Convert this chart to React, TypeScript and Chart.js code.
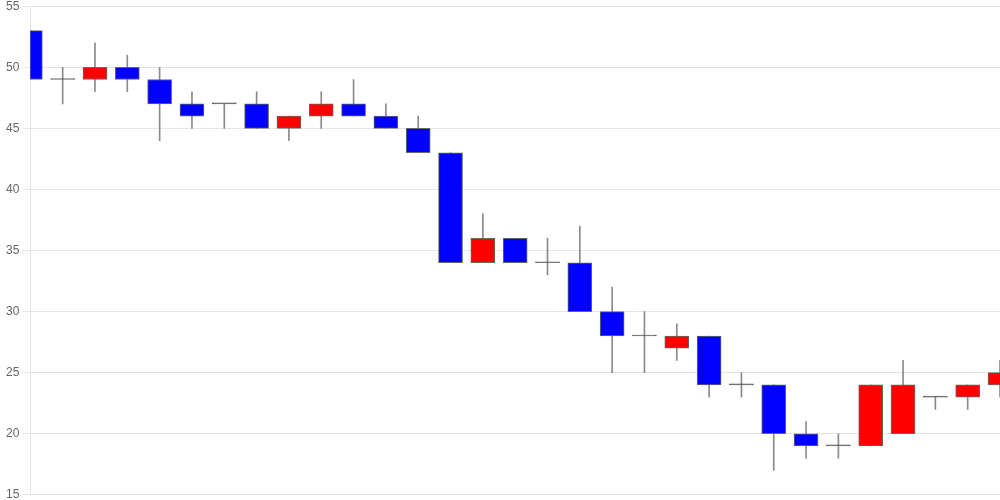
import React, { useEffect, useRef } from "react";
import { Chart, registerables } from "chart.js";

Chart.register(...registerables);

const labels = [
  "1", "2", "3", "4", "5", "6", "7", "8", "9", "10",
  "11", "12", "13", "14", "15", "16", "17", "18", "19", "20",
  "21", "22", "23", "24", "25", "26", "27", "28", "29", "30", "31",
];
const openValues = [53, 49, 49, 50, 49, 47, 47, 47, 45, 46, 47, 46, 45, 43, 34, 36, 34, 34, 30, 28, 27, 28, 24, 24, 20, 19, 19, 20, 23, 23, 24];
const highValues = [53, 50, 52, 51, 50, 48, 47, 48, 46, 48, 49, 47, 46, 43, 38, 36, 36, 37, 32, 30, 29, 28, 25, 24, 21, 20, 24, 26, 23, 24, 26];
const lowValues = [49, 47, 48, 48, 44, 45, 45, 45, 44, 45, 46, 45, 43, 34, 34, 34, 33, 30, 25, 25, 26, 23, 23, 17, 18, 18, 19, 20, 22, 22, 23];
const closeValues = [49, 49, 50, 49, 47, 46, 47, 45, 46, 47, 46, 45, 43, 34, 36, 34, 34, 30, 28, 28, 28, 24, 24, 20, 19, 19, 24, 24, 23, 24, 25];

const yTicks = { min: 15, max: 55, step: 5 };

export default function App() {
  const ref = useRef<HTMLCanvasElement | null>(null);

  useEffect(() => {
    if (!ref.current) return;
    const bodyColors = labels.map((_, i) =>
      closeValues[i] > openValues[i] ? "#ff0000" : closeValues[i] < openValues[i] ? "#0000ff" : "#555555"
    );
    const bodyBorders = labels.map((_, i) =>
      closeValues[i] === openValues[i] ? "#555555" : "#666666"
    );
    const chart = new Chart(ref.current, {
      type: "bar",
      data: {
        labels,
        datasets: [
          {
            label: "body",
            data: labels.map((_, i) => [openValues[i], closeValues[i]]) as any,
            backgroundColor: bodyColors,
            borderColor: bodyBorders,
            borderWidth: 1,
            borderSkipped: false,
            barThickness: 24,
            minBarLength: 1,
            grouped: false,
            order: 0,
            clip: 0 as any,
          },
          {
            label: "wick",
            data: labels.map((_, i) => [lowValues[i], highValues[i]]) as any,
            backgroundColor: "#8a8a8a",
            borderWidth: 0,
            barThickness: 1,
            grouped: false,
            order: 1,
            clip: 0 as any,
          },
        ],
      },
      options: {
        animation: false,
        responsive: true,
        maintainAspectRatio: false,
        layout: { padding: { left: 3, right: 0, top: 0, bottom: 0 } },
        plugins: { legend: { display: false }, tooltip: { enabled: false } },
        scales: {
          x: {
            type: "category",
            offset: false,
            display: false,
          },
          y: {
            min: yTicks.min,
            max: yTicks.max,
            ticks: {
              stepSize: yTicks.step,
              color: "#666666",
              font: { size: 12, family: "'Liberation Sans', Arial, sans-serif" },
            },
            grid: { color: "rgba(0,0,0,0.1)" },
            border: { color: "rgba(0,0,0,0.1)" },
          },
        },
      },
    });
    return () => chart.destroy();
  }, []);

  return (
    <div style={{ position: "absolute", left: 0, top: 0, width: 1000, height: 500, overflow: "hidden" }}>
      <div style={{ position: "absolute", left: 0, top: -4, width: 1000, height: 509 }}>
        <canvas ref={ref} />
      </div>
    </div>
  );
}
